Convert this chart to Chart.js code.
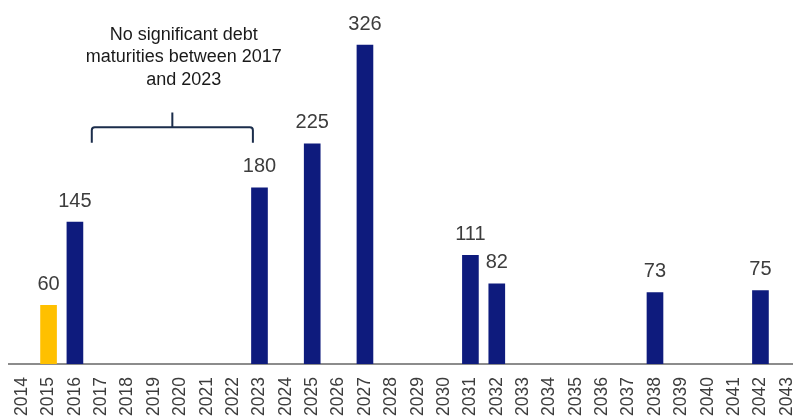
<!DOCTYPE html>
<html>
<head>
<meta charset="utf-8">
<script src="https://cdn.jsdelivr.net/npm/chart.js@4.4.1/dist/chart.umd.min.js"></script>
<style>
  html, body { margin: 0; padding: 0; background: #ffffff; overflow: hidden; }
  #wrap { width: 800px; height: 418px; }
</style>
</head>
<body>
<div id="wrap"><canvas id="c" width="800" height="418"></canvas></div>
<script>
// Debt maturity profile by year
const years = ['2014','2015','2016','2017','2018','2019','2020','2021','2022','2023','2024','2025','2026','2027','2028',
               '2029','2030','2031','2032','2033','2034','2035','2036','2037','2038','2039','2040','2041','2042','2043'];
const maturities = [null, 60, 145, null, null, null, null, null, null, 180, null, 225, null, 326, null,
                    null, null, 111, 82, null, null, null, null, null, 73, null, null, null, 75, null];
const repaidYears = ['2015'];
const noteLines = ['No significant debt', 'maturities between 2017', 'and 2023'];
const noteFrom = '2017';
const noteTo = '2023';

const NAVY = '#0e1b7d';
const GOLD = '#ffc000';
const barColors = years.map(y => repaidYears.includes(y) ? GOLD : NAVY);

// Value labels above each bar
const valueLabels = {
  id: 'valueLabels',
  afterDatasetsDraw(chart) {
    const ctx = chart.ctx;
    const meta = chart.getDatasetMeta(0);
    ctx.save();
    ctx.font = '20px "Liberation Sans", Arial, sans-serif';
    ctx.fillStyle = '#3d3d3d';
    ctx.textAlign = 'center';
    ctx.textBaseline = 'alphabetic';
    meta.data.forEach((bar, i) => {
      const v = maturities[i];
      if (v == null) return;
      ctx.fillText(String(v), bar.x, bar.y - 15.5);
    });
    ctx.restore();
  }
};

// Bracket and note over the gap in maturities
const gapNote = {
  id: 'gapNote',
  afterDraw(chart) {
    const ctx = chart.ctx;
    const xs = chart.scales.x, ys = chart.scales.y;
    const i0 = years.indexOf(noteFrom), i1 = years.indexOf(noteTo);
    const left = xs.getPixelForValue(i0 - 0.36);
    const right = xs.getPixelForValue(i1 - 0.25);
    const mid = (left + right) / 2;
    const top = ys.getPixelForValue(242);
    const foot = ys.getPixelForValue(226);
    const peak = ys.getPixelForValue(257);
    const r = 3;
    ctx.save();
    ctx.strokeStyle = '#1b2d4b';
    ctx.lineWidth = 2;
    ctx.lineJoin = 'round';
    ctx.beginPath();
    ctx.moveTo(left, foot);
    ctx.lineTo(left, top + r);
    ctx.quadraticCurveTo(left, top, left + r, top);
    ctx.lineTo(right - r, top);
    ctx.quadraticCurveTo(right, top, right, top + r);
    ctx.lineTo(right, foot);
    ctx.moveTo(mid, top);
    ctx.lineTo(mid, peak);
    ctx.stroke();

    ctx.font = '18px "Liberation Sans", Arial, sans-serif';
    ctx.fillStyle = '#1a1a1a';
    ctx.textAlign = 'center';
    ctx.textBaseline = 'alphabetic';
    const cx = xs.getPixelForValue((i0 + i1) / 2 + 0.13);
    const base = ys.getPixelForValue(331);
    noteLines.forEach((line, k) => ctx.fillText(line, cx, base + k * 22.3));
    ctx.restore();
  }
};

new Chart(document.getElementById('c'), {
  type: 'bar',
  data: {
    labels: years,
    datasets: [{
      data: maturities,
      backgroundColor: barColors,
      barThickness: 16,
      borderWidth: 0
    }]
  },
  options: {
    responsive: false,
    animation: false,
    layout: { padding: { left: 9, right: 0, top: 0, bottom: 0 } },
    plugins: { legend: { display: false }, tooltip: { enabled: false } },
    scales: {
      x: {
        offset: true,
        grid: { display: false, drawTicks: false },
        border: { display: true, color: '#8c8c8c', width: 2 },
        ticks: {
          autoSkip: false,
          maxRotation: 90,
          minRotation: 90,
          padding: 13,
          color: '#3d3d3d',
          font: { family: '"Liberation Sans", Arial, sans-serif', size: 17.5 }
        },
        afterFit(scale) {
          scale.height = 54;
          scale.paddingLeft = 0;
          scale.paddingRight = 0;
        }
      },
      y: {
        display: false,
        min: 0,
        max: 372
      }
    }
  },
  plugins: [valueLabels, gapNote]
});
</script>
</body>
</html>
